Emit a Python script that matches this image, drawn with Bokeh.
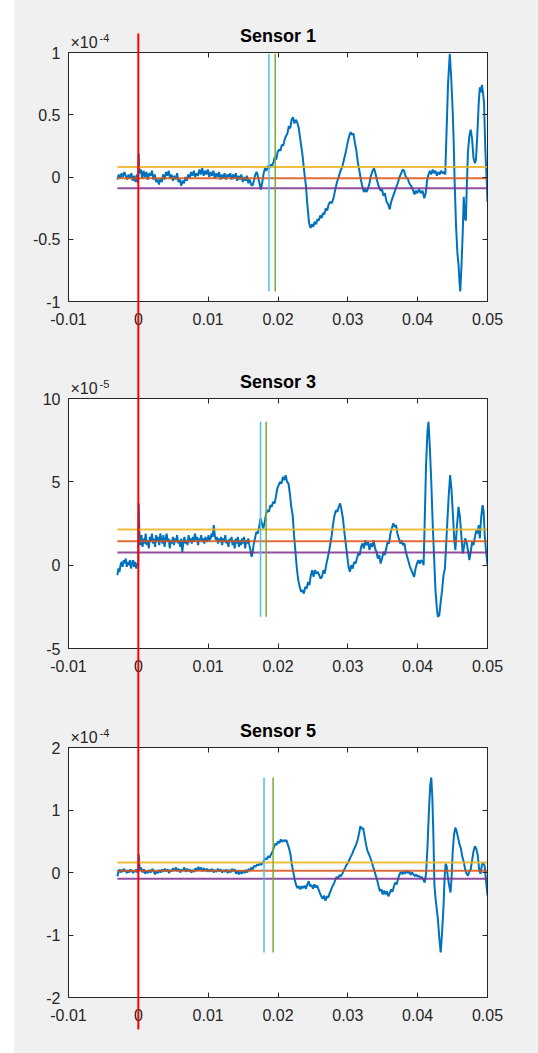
import numpy as np
from bokeh.plotting import figure
from bokeh.models import ColumnDataSource, LinearAxis, FixedTicker, Spacer
from bokeh.core.properties import value
from bokeh.layouts import column, row
from bokeh.embed import file_html
from bokeh.resources import INLINE

FONT = "Liberation Sans"
TICK_COLOR = "#262626"

# ---------------- data (time in ms, values in displayed units) ----------------
titles = ["Sensor 1", "Sensor 3", "Sensor 5"]
exponents = ["-4", "-5", "-4"]

x_ticks = [-0.01, 0.0, 0.01, 0.02, 0.03, 0.04, 0.05]
x_tick_labels = ["-0.01", "0", "0.01", "0.02", "0.03", "0.04", "0.05"]

y1_ticks = [-1.0, -0.5, 0.0, 0.5, 1.0]
y1_tick_labels = ["-1", "-0.5", "0", "0.5", "1"]
y2_ticks = [-5.0, 0.0, 5.0, 10.0]
y2_tick_labels = ["-5", "0", "5", "10"]
y3_ticks = [-2.0, -1.0, 0.0, 1.0, 2.0]
y3_tick_labels = ["-2", "-1", "0", "1", "2"]

# Sensor 1 (x 1e-4)
s1_t = [-3.0, -2.8, -2.6, -2.4, -2.2, -2.0, -1.8, -1.6, -1.4, -1.2, -1.0, -0.8, -0.6, -0.4, -0.2, -0.05,
        0.05, 0.15, 0.35, 0.55, 0.75, 0.95, 1.15, 1.35, 1.55, 1.75, 1.95, 2.15, 2.35, 2.55, 2.75, 2.95,
        3.15, 3.35, 3.55, 3.75, 3.95, 4.15, 4.35, 4.55, 4.75, 4.95, 5.15, 5.35, 5.55, 5.75, 5.95, 6.15,
        6.35, 6.55, 6.75, 6.95, 7.15, 7.35, 7.55, 7.75, 7.95, 8.15, 8.35, 8.55, 8.75, 8.95, 9.15, 9.35,
        9.55, 9.75, 9.95, 10.15, 10.35, 10.55, 10.75, 10.95, 11.15, 11.35, 11.55, 11.75, 11.95, 12.15,
        12.35, 12.55, 12.75, 12.95, 13.15, 13.35, 13.55, 13.75, 13.95, 14.15, 14.35, 14.55, 14.75, 14.95,
        15.15, 15.35, 15.55, 15.75, 15.95, 16.15, 16.35, 16.55, 16.75, 16.95, 17.15, 17.35, 17.55, 17.75,
        17.95, 18.15, 18.35, 18.55, 18.75, 18.95, 19.15, 19.35, 19.55, 19.75, 19.95, 20.15, 20.35, 20.55,
        20.75, 20.95, 21.15, 21.35, 21.55, 21.75, 21.95, 22.15, 22.35, 22.55, 22.75, 22.95, 23.2, 23.5,
        23.8, 24.0, 24.2, 24.45, 24.65, 24.85, 25.05, 25.25, 25.45, 25.65, 25.85, 26.05, 26.25, 26.45,
        26.65, 26.85, 27.05, 27.25, 27.45, 27.7, 27.95, 28.2, 28.45, 28.7, 28.95, 29.2, 29.45, 29.7,
        29.95, 30.2, 30.4, 30.6, 30.8, 31.0, 31.2, 31.4, 31.65, 31.9, 32.1, 32.3, 32.5, 32.7, 32.9,
        33.1, 33.3, 33.55, 33.75, 33.95, 34.2, 34.45, 34.7, 34.9, 35.1, 35.3, 35.55, 35.8, 36.0, 36.2,
        36.45, 36.7, 36.95, 37.2, 37.4, 37.65, 37.85, 38.05, 38.3, 38.55, 38.8, 39.05, 39.3, 39.55,
        39.75, 39.95, 40.2, 40.45, 40.7, 40.95, 41.15, 41.35, 41.55, 41.75, 41.95, 42.15, 42.35, 42.55,
        42.75, 42.95, 43.15, 43.35, 43.55, 43.75, 43.95, 44.1, 44.35, 44.6, 44.8, 45.0, 45.15, 45.3,
        45.5, 45.7, 45.85, 46.0, 46.1, 46.25, 46.45, 46.6, 46.75, 46.9, 47.05, 47.2, 47.4, 47.6, 47.8,
        48.0, 48.2, 48.35, 48.55, 48.75, 48.9, 49.05, 49.2, 49.35, 49.5, 49.7, 49.85, 50.0]
s1_v = [-0.02, 0.02, -0.01, 0.03, 0.00, 0.04, 0.01, -0.02, 0.02, -0.01, 0.03, -0.03, 0.01, -0.04, 0.02, -0.05,
        0.19, 0.03, 0.06, -0.01, 0.05, 0.00, 0.04, -0.02, 0.03, 0.01, 0.05, -0.02, 0.02, -0.04, -0.02, -0.06,
        -0.01, -0.04, 0.02, -0.02, 0.04, 0.01, 0.05, -0.01, 0.02, -0.03, 0.01, -0.02, 0.03, -0.04, -0.02, -0.07,
        -0.03, -0.05, 0.00, -0.03, 0.02, -0.01, 0.04, 0.01, 0.05, 0.00, 0.03, 0.01, 0.06, 0.02, 0.07, 0.01,
        0.05, 0.02, 0.06, 0.00, 0.04, 0.01, 0.05, -0.01, 0.03, 0.00, 0.04, -0.02, 0.02, -0.01,
        0.03, -0.02, 0.02, 0.00, 0.03, -0.02, 0.02, -0.01, 0.03, -0.03, 0.01, -0.02, 0.02, -0.04,
        0.00, -0.03, 0.01, -0.05, -0.02, -0.06, -0.07, -0.03, 0.02, 0.04, 0.00, -0.05, -0.10, -0.04,
        0.03, 0.07, 0.05, 0.09, 0.07, 0.10, 0.09, 0.12, 0.16, 0.14, 0.20, 0.22, 0.21, 0.26,
        0.25, 0.30, 0.33, 0.35, 0.41, 0.39, 0.46, 0.48, 0.43, 0.46, 0.44, 0.40, 0.30, 0.18,
        0.02, -0.07, -0.22, -0.37, -0.41, -0.38, -0.40, -0.36, -0.38, -0.34, -0.35, -0.31, -0.33, -0.29,
        -0.30, -0.25, -0.27, -0.22, -0.20, -0.21, -0.17, -0.10, -0.04, 0.00, 0.05, 0.08, 0.14, 0.20,
        0.27, 0.33, 0.36, 0.34, 0.35, 0.28, 0.22, 0.13, 0.05, -0.03, -0.08, -0.12, -0.10, -0.12, -0.09,
        -0.05, 0.01, 0.05, 0.07, 0.03, -0.03, -0.08, -0.11, -0.10, -0.15, -0.13, -0.20, -0.22, -0.26, -0.20,
        -0.16, -0.12, -0.08, -0.04, 0.00, 0.03, 0.06, 0.05, 0.00, -0.01, -0.05, -0.07, -0.10, -0.14,
        -0.11, -0.13, -0.10, -0.13, -0.11, -0.17, -0.13, -0.03, 0.02, 0.05, 0.02, 0.06, 0.03, 0.05,
        0.01, 0.04, 0.02, 0.05, 0.03, 0.04, 0.02, 0.30, 0.75, 0.99, 0.80, 0.55, 0.30, -0.05,
        -0.40, -0.62, -0.70, -0.85, -0.92, -0.75, -0.45, -0.16, -0.33, -0.35, -0.05, 0.20, 0.33, 0.38, 0.30,
        0.15, 0.11, 0.14, 0.35, 0.60, 0.72, 0.68, 0.74, 0.68, 0.60, 0.20, 0.02, -0.20]

# Sensor 3 (x 1e-5)
s3_t = [-3.0, -2.85, -2.7, -2.55, -2.4, -2.25, -2.1, -1.95, -1.8, -1.65, -1.5, -1.35, -1.2, -1.05, -0.9,
        -0.75, -0.6, -0.45, -0.3, -0.15, -0.02, 0.05, 0.15, 0.3, 0.45, 0.6, 0.75, 0.9, 1.05, 1.2, 1.35,
        1.5, 1.65, 1.8, 1.95, 2.1, 2.25, 2.4, 2.55, 2.7, 2.85, 3.0, 3.15, 3.3, 3.45, 3.6, 3.75, 3.9, 4.05,
        4.2, 4.35, 4.5, 4.65, 4.8, 4.95, 5.1, 5.25, 5.4, 5.55, 5.7, 5.85, 6.0, 6.15, 6.3, 6.45, 6.6, 6.75,
        6.9, 7.05, 7.2, 7.35, 7.5, 7.65, 7.8, 7.95, 8.1, 8.25, 8.4, 8.55, 8.7, 8.85, 9.0, 9.15, 9.3, 9.45,
        9.6, 9.75, 9.9, 10.05, 10.2, 10.35, 10.5, 10.65, 10.8, 10.95, 11.1, 11.25, 11.4, 11.55, 11.7, 11.85,
        12.0, 12.15, 12.3, 12.45, 12.6, 12.75, 12.9, 13.05, 13.2, 13.35, 13.5, 13.65, 13.8, 13.95, 14.1,
        14.25, 14.4, 14.55, 14.7, 14.85, 15.0, 15.15, 15.3, 15.45, 15.6, 15.75, 15.9, 16.05, 16.2, 16.35,
        16.5, 16.7, 16.9, 17.1, 17.3, 17.5, 17.7, 17.9, 18.1, 18.3, 18.5, 18.7, 18.9, 19.1, 19.3, 19.5,
        19.7, 19.9, 20.1, 20.3, 20.5, 20.7, 20.9, 21.1, 21.3, 21.5, 21.7, 21.9, 22.1, 22.3, 22.5, 22.7,
        22.9, 23.1, 23.3, 23.5, 23.7, 23.9, 24.1, 24.3, 24.5, 24.7, 24.9, 25.1, 25.3, 25.5, 25.7, 25.9,
        26.1, 26.3, 26.5, 26.7, 26.9, 27.1, 27.3, 27.5, 27.7, 27.9, 28.1, 28.3, 28.5, 28.7, 28.9, 29.1,
        29.3, 29.5, 29.7, 29.9, 30.1, 30.3, 30.5, 30.7, 30.9, 31.1, 31.3, 31.5, 31.7, 31.9, 32.1, 32.3,
        32.5, 32.7, 32.9, 33.1, 33.3, 33.5, 33.7, 33.9, 34.1, 34.3, 34.5, 34.7, 34.9, 35.1, 35.3, 35.5,
        35.7, 35.9, 36.1, 36.3, 36.5, 36.7, 36.9, 37.1, 37.3, 37.5, 37.7, 37.9, 38.1, 38.3, 38.5, 38.7,
        38.9, 39.1, 39.3, 39.5, 39.7, 39.9, 40.1, 40.3, 40.5, 40.7, 40.85, 41.0, 41.2, 41.4, 41.55, 41.75,
        41.95, 42.15, 42.35, 42.55, 42.75, 42.9, 43.1, 43.3, 43.5, 43.7, 43.9, 44.05, 44.25, 44.45, 44.65,
        44.85, 45.05, 45.25, 45.4, 45.6, 45.85, 46.05, 46.25, 46.45, 46.6, 46.8, 47.0, 47.2, 47.4, 47.6,
        47.8, 48.0, 48.2, 48.4, 48.55, 48.75, 48.9, 49.1, 49.3, 49.45, 49.6, 49.8, 50.0]
s3_v = [-0.6, -0.2, -0.4, 0.0, 0.2, -0.1, 0.3, 0.1, 0.4, -0.1, 0.2, 0.0, 0.3, -0.2, 0.1,
        0.3, -0.1, 0.2, -0.2, 0.1, 0.0, 3.7, 2.0, 1.2, 1.8, 1.1, 1.6, 1.3, 1.9, 1.2, 1.5,
        1.0, 1.7, 1.4, 1.9, 1.3, 1.6, 1.1, 1.8, 1.4, 1.7, 1.2, 1.9, 1.5, 1.3, 1.8, 1.1, 1.5, 1.9,
        1.4, 1.6, 1.0, 1.5, 1.3, 1.7, 1.2, 1.6, 1.4, 1.8, 1.3, 1.5, 1.1, 1.6, 0.8, 1.4, 1.7, 1.3,
        1.5, 1.2, 1.8, 1.4, 1.6, 1.3, 1.7, 1.4, 1.9, 1.5, 1.7, 1.2, 1.6, 1.5, 1.8, 1.4, 1.6, 1.3,
        1.7, 1.5, 1.4, 1.8, 1.5, 1.6, 1.9, 1.7, 2.4, 1.8, 1.5, 1.7, 1.3, 1.6, 1.4, 1.7,
        1.2, 1.6, 1.4, 1.8, 1.3, 1.5, 1.1, 1.6, 1.4, 1.7, 1.2, 1.5, 1.0, 1.6, 1.3,
        1.7, 1.1, 1.5, 1.2, 1.6, 1.3, 1.7, 1.0, 1.5, 1.3, 1.6, 1.2, 0.9, 0.5, 0.7,
        1.2, 1.6, 2.0, 1.9, 2.3, 2.8, 2.5, 2.2, 2.6, 3.1, 3.3, 3.2, 3.6, 3.5, 3.8, 3.7,
        4.1, 4.6, 4.8, 5.0, 4.9, 5.3, 5.1, 5.4, 5.0, 4.9, 4.3, 3.5, 3.0, 1.8, 0.8, -0.2,
        -0.9, -1.3, -1.6, -1.5, -1.7, -1.3, -1.4, -1.0, -1.2, -0.6, -0.3, -0.7, -0.3, -0.5, -0.4, -0.6,
        -0.8, -0.7, -0.3, -0.5, 0.0, 0.4, 0.8, 1.3, 1.8, 2.5, 3.0, 3.3, 3.2, 3.5, 3.7, 3.3,
        2.8, 2.0, 1.3, 0.6, -0.1, -0.4, 0.0, -0.2, 0.2, 0.1, 0.4, 0.7, 0.6, 1.1, 1.3, 1.0,
        1.5, 1.2, 1.4, 0.9, 1.3, 1.1, 1.5, 1.0, 0.8, 0.4, 0.6, 0.1, 0.4, 0.8, 0.6, 1.0,
        1.4, 1.3, 1.9, 2.2, 2.5, 2.3, 2.4, 1.9, 1.6, 1.3, 1.5, 1.2, 1.3, 0.8, 0.5, 0.2,
        -0.1, -0.3, -0.5, -0.7, -0.2, 0.1, 0.3, 0.1, 0.3, 0.2, 0.0, 2.5, 6.0, 8.0, 8.6, 7.0,
        5.0, 2.5, 0.5, -1.5, -2.6, -3.1, -3.0, -2.2, -1.5, -0.6, -0.2, 1.0, 2.6, 4.2, 5.4,
        4.5, 3.0, 1.5, 0.9, 2.2, 3.5, 2.9, 1.8, 0.7, 1.0, 1.6, 1.4, 0.9, 0.3, 0.8,
        1.4, 1.2, 1.7, 2.1, 1.9, 2.4, 1.6, 2.9, 3.6, 3.2, 1.8, 0.8, 0.0]

# Sensor 5 (x 1e-4)
s5_t = [-3.0, -2.85, -2.7, -2.55, -2.4, -2.25, -2.1, -1.95, -1.8, -1.65, -1.5, -1.35, -1.2, -1.05, -0.9,
        -0.75, -0.6, -0.45, -0.3, -0.15, -0.02, 0.05, 0.2, 0.4, 0.6, 0.8, 1.0, 1.2, 1.4, 1.6, 1.8, 2.0,
        2.2, 2.4, 2.6, 2.8, 3.0, 3.2, 3.4, 3.6, 3.8, 4.0, 4.2, 4.4, 4.6, 4.8, 5.0, 5.2, 5.4, 5.6, 5.8,
        6.0, 6.2, 6.4, 6.6, 6.8, 7.0, 7.2, 7.4, 7.6, 7.8, 8.0, 8.2, 8.4, 8.6, 8.8, 9.0, 9.2, 9.4, 9.6,
        9.8, 10.0, 10.2, 10.4, 10.6, 10.8, 11.0, 11.2, 11.4, 11.6, 11.8, 12.0, 12.2, 12.4, 12.6, 12.8,
        13.0, 13.2, 13.4, 13.6, 13.8, 14.0, 14.2, 14.4, 14.6, 14.8, 15.0, 15.2, 15.4, 15.6, 15.8, 16.0,
        16.2, 16.4, 16.6, 16.8, 17.0, 17.2, 17.4, 17.6, 17.8, 18.0, 18.2, 18.4, 18.6, 18.8, 19.0, 19.2,
        19.4, 19.6, 19.8, 20.0, 20.2, 20.4, 20.6, 20.8, 21.0, 21.2, 21.4, 21.6, 21.8, 22.0, 22.2, 22.4,
        22.6, 22.8, 23.0, 23.2, 23.4, 23.6, 23.8, 24.0, 24.2, 24.4, 24.6, 24.8, 25.0, 25.2, 25.4, 25.6,
        25.8, 26.0, 26.2, 26.4, 26.6, 26.8, 27.0, 27.2, 27.4, 27.6, 27.8, 28.0, 28.2, 28.4, 28.6, 28.8,
        29.0, 29.2, 29.4, 29.6, 29.8, 30.0, 30.2, 30.4, 30.6, 30.8, 31.0, 31.2, 31.4, 31.6, 31.8, 32.0,
        32.2, 32.4, 32.6, 32.8, 33.0, 33.2, 33.4, 33.6, 33.8, 34.0, 34.2, 34.4, 34.6, 34.8, 35.0, 35.2,
        35.4, 35.6, 35.8, 36.0, 36.2, 36.4, 36.6, 36.8, 37.0, 37.2, 37.4, 37.6, 37.8, 38.0, 38.2, 38.4,
        38.6, 38.8, 39.0, 39.2, 39.4, 39.6, 39.8, 40.0, 40.2, 40.4, 40.6, 40.8, 41.0, 41.2, 41.4, 41.6,
        41.8, 41.95, 42.1, 42.25, 42.4, 42.55, 42.7, 42.9, 43.1, 43.3, 43.5, 43.7, 43.85, 44.0, 44.15,
        44.3, 44.5, 44.7, 44.85, 45.0, 45.2, 45.4, 45.6, 45.8, 46.0, 46.2, 46.4, 46.6, 46.8, 47.0, 47.2,
        47.4, 47.6, 47.8, 48.0, 48.2, 48.4, 48.6, 48.8, 49.0, 49.2, 49.4, 49.6, 49.8, 50.0]
s5_v = [-0.06, 0.02, 0.05, 0.00, 0.04, 0.01, 0.06, 0.02, 0.04, -0.01, 0.03, 0.00, 0.05, 0.01, 0.04,
        -0.01, 0.03, 0.01, 0.05, 0.00, 0.03, 0.29, 0.04, 0.08, 0.00, 0.05, -0.02, 0.03, -0.01, 0.04, 0.00, 0.06,
        0.02, -0.03, 0.02, -0.01, 0.04, 0.00, 0.05, 0.01, 0.06, 0.02, 0.05, -0.01, 0.04, 0.02, 0.07, 0.03, 0.08, 0.02, 0.06,
        0.00, 0.05, 0.03, 0.08, 0.01, 0.06, 0.02, 0.05, 0.00, 0.04, 0.01, 0.07, 0.03, 0.09, 0.04, 0.08, 0.02, 0.07, 0.03,
        0.06, 0.01, 0.05, 0.02, 0.06, 0.00, 0.04, 0.01, 0.06, 0.02, 0.05, 0.00, 0.04, 0.01, 0.05, -0.01,
        0.04, 0.00, 0.06, 0.02, 0.05, -0.02, 0.03, -0.03, 0.02, -0.02, 0.03, -0.01, 0.04, 0.00, 0.06, 0.03,
        0.08, 0.05, 0.11, 0.09, 0.13, 0.11, 0.15, 0.12, 0.16, 0.19, 0.23, 0.21, 0.26, 0.24, 0.29, 0.33,
        0.40, 0.46, 0.44, 0.50, 0.47, 0.53, 0.49, 0.52, 0.50, 0.52, 0.45, 0.38, 0.28, 0.12, 0.00, -0.12,
        -0.20, -0.25, -0.22, -0.27, -0.22, -0.25, -0.21, -0.26, -0.19, -0.14, -0.22, -0.20, -0.26, -0.19, -0.24, -0.21,
        -0.27, -0.33, -0.38, -0.42, -0.37, -0.45, -0.38, -0.40, -0.33, -0.28, -0.22, -0.18, -0.12, -0.07, -0.10, -0.04,
        -0.06, -0.02, 0.03, 0.07, 0.12, 0.15, 0.20, 0.25, 0.29, 0.35, 0.40, 0.45, 0.52, 0.62, 0.74, 0.70,
        0.71, 0.58, 0.45, 0.35, 0.30, 0.24, 0.18, 0.10, 0.03, -0.05, -0.12, -0.22, -0.30, -0.27, -0.35, -0.29,
        -0.35, -0.30, -0.38, -0.33, -0.27, -0.31, -0.22, -0.16, -0.19, -0.10, -0.03, 0.01, -0.03, 0.02, -0.02, 0.03,
        -0.01, 0.02, -0.04, 0.00, -0.03, -0.06, -0.03, -0.07, -0.05, -0.09, -0.07, -0.11, -0.16, -0.02, 0.40, 0.95,
        1.40, 1.52, 1.20, 0.60, -0.20, -0.40, -0.55, -0.75, -1.05, -1.28, -0.95, -0.55, -0.10, 0.14, 0.10,
        -0.05, -0.20, -0.32, -0.10, 0.30, 0.60, 0.72, 0.65, 0.55, 0.45, 0.38, 0.25, 0.17, 0.05, -0.02, -0.05,
        0.02, 0.05, 0.20, 0.34, 0.42, 0.38, 0.28, 0.05, -0.02, 0.12, 0.16, 0.10, -0.15, -0.37]

# threshold levels (upper, mean, lower) per sensor, displayed units
upper_levels = [0.08, 2.14, 0.16]
mean_levels = [-0.01, 1.44, 0.03]
lower_levels = [-0.09, 0.76, -0.10]

# picked arrival times (s) per sensor
pick_a = [0.0187, 0.0175, 0.0180]
pick_b = [0.0196, 0.0183, 0.0193]

trigger_time = 0.0

# -------------------------------------------------------------------------
series_t = [s1_t, s3_t, s5_t]
series_v = [s1_v, s3_v, s5_v]
y_ranges = [(-1, 1), (-5, 10), (-2, 2)]
y_ticks = [y1_ticks, y2_ticks, y3_ticks]
y_tick_labels = [y1_tick_labels, y2_tick_labels, y3_tick_labels]

# layout (pixels)
heights = [348, 350, 355]
borders_top = [52, 50, 49]
borders_bottom = [47, 50, 56]
# red trigger line extent, as canvas pixel rows of each figure (from its top)
red_top_px = [33, -10, -10]
red_bottom_px = [360, 360, 331]

BLUE = "#0072BD"
ORANGE = "#D95319"
YELLOW = "#EDB120"
PURPLE = "#7E2F8E"
GREEN = "#77AC30"
CYAN = "#4DBEEE"
BG = "#f0f0f0"


def style_axis(ax, ticks, labels, show_labels, standoff):
    ax.ticker = FixedTicker(ticks=ticks)
    ax.major_label_overrides = {t: (l if show_labels else "") for t, l in zip(ticks, labels)}
    ax.major_tick_in = 5
    ax.major_tick_out = 0
    ax.minor_tick_in = 0
    ax.minor_tick_out = 0
    ax.axis_line_color = TICK_COLOR
    ax.major_tick_line_color = TICK_COLOR
    ax.major_label_text_font = FONT
    ax.major_label_text_font_size = "16px" if show_labels else "0px"
    ax.major_label_text_color = TICK_COLOR
    ax.major_label_standoff = standoff if show_labels else 0


figs = []
for i in range(3):
    t = np.array(series_t[i]) / 1000.0
    v = np.array(series_v[i])
    ymin, ymax = y_ranges[i]
    p = figure(width=524, height=heights[i], x_range=(-0.01, 0.05), y_range=(ymin, ymax),
               output_backend="svg", toolbar_location=None,
               min_border_left=54, min_border_right=51,
               min_border_top=borders_top[i], min_border_bottom=borders_bottom[i],
               background_fill_color="white", border_fill_color=BG,
               outline_line_color=TICK_COLOR)
    p.xgrid.visible = False
    p.ygrid.visible = False
    style_axis(p.xaxis[0], x_ticks, x_tick_labels, True, 11)
    style_axis(p.yaxis[0], y_ticks[i], y_tick_labels[i], True, 8)
    top_ax = LinearAxis()
    style_axis(top_ax, x_ticks, x_tick_labels, False, 0)
    right_ax = LinearAxis()
    style_axis(right_ax, y_ticks[i], y_tick_labels[i], False, 0)
    p.add_layout(top_ax, "above")
    p.add_layout(right_ax, "right")

    p.title.text = titles[i]
    p.title.align = "center"
    p.title.text_font = FONT
    p.title.text_font_size = "18px"
    p.title.text_font_style = "bold"
    p.title.text_color = "#000000"
    p.title.standoff = 13

    src = ColumnDataSource(dict(t=t, v=v))
    p.line("t", "v", source=src, line_color=BLUE, line_width=2)

    t0, t1 = t[0], t[-1]
    for lvl, col in [(upper_levels[i], YELLOW), (mean_levels[i], ORANGE), (lower_levels[i], PURPLE)]:
        p.line([t0, t1], [lvl, lvl], line_color=col, line_width=2, line_alpha=0.85)

    vmin, vmax = v.min(), v.max()
    p.segment(x0=[pick_a[i]], y0=[vmin], x1=[pick_a[i]], y1=[vmax], line_color=CYAN, line_width=1.5)
    p.segment(x0=[pick_b[i]], y0=[vmin], x1=[pick_b[i]], y1=[vmax], line_color=GREEN, line_width=1.5)

    # exponent marker above the y axis (overlay level, not clipped to the frame)
    p.text(x=[-0.01], y=[ymax], text=["\u00d710"], x_offset=2, y_offset=-2,
           text_font=value(FONT), text_font_size="16px", text_color=TICK_COLOR,
           text_baseline="bottom", text_align="left", level="overlay")
    p.text(x=[-0.01], y=[ymax], text=[exponents[i]], x_offset=31, y_offset=-11,
           text_font=value(FONT), text_font_size="11px", text_color=TICK_COLOR,
           text_baseline="bottom", text_align="left", level="overlay")

    # red trigger line running across the whole panel stack
    frame_h = heights[i] - borders_top[i] - borders_bottom[i]
    per_px = (ymax - ymin) / frame_h
    y_hi = ymax + (borders_top[i] - red_top_px[i]) * per_px
    y_lo = ymin - (red_bottom_px[i] - (heights[i] - borders_bottom[i])) * per_px
    p.segment(x0=[trigger_time], y0=[y_lo], x1=[trigger_time], y1=[y_hi],
              line_color="#ff0000", line_width=2, level="overlay")
    figs.append(p)

col = column(*figs, spacing=0, styles={"background-color": BG})
layout = row(Spacer(width=14, height=1053), col, spacing=0)
open("out.html", "w").write(file_html(layout, INLINE))
